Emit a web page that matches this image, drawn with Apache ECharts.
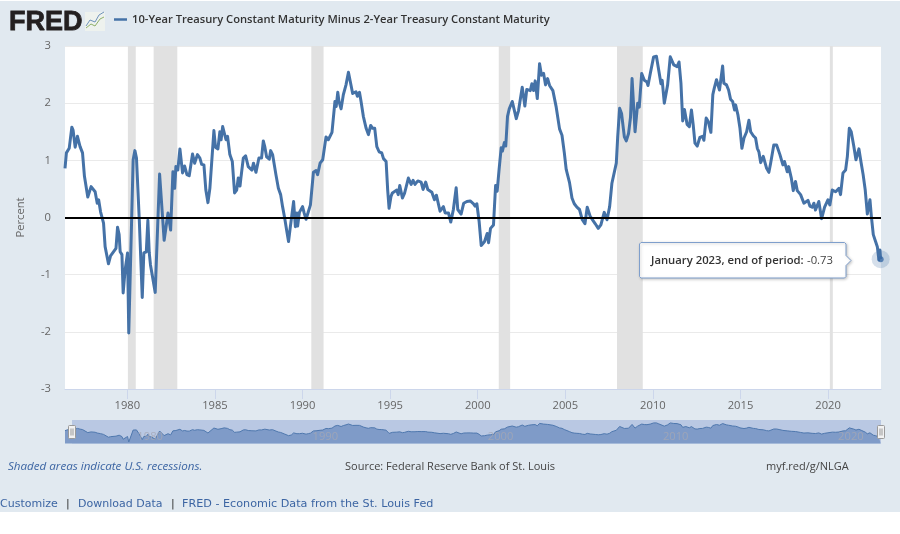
<!DOCTYPE html>
<html>
<head>
<meta charset="utf-8">
<style>html,body{margin:0;padding:0;background:#fff}#c{width:900px;height:534px}</style>
<script src="https://cdn.jsdelivr.net/npm/echarts@6/dist/echarts.min.js"></script>
</head>
<body>
<div id="c"></div>
<script>
const seriesName = '10-Year Treasury Constant Maturity Minus 2-Year Treasury Constant Maturity';
const years = [
1976.44,1976.52,1976.68,1976.83,1976.9,1977.02,1977.15,1977.3,1977.44,1977.55,1977.74,1977.93,
1978.16,1978.28,1978.36,1978.47,1978.64,1978.73,1978.92,1979.04,1979.15,1979.35,1979.44,1979.53,1979.59,1979.69,1979.76,1979.87,
1980.01,1980.08,1980.18,1980.33,1980.43,1980.52,1980.68,1980.85,1980.94,1981.08,1981.17,1981.25,1981.32,1981.4,1981.59,1981.65,1981.84,
1982.1,1982.18,1982.32,1982.42,1982.47,1982.6,1982.7,1982.77,1982.88,1983.0,1983.15,1983.27,1983.4,1983.53,1983.72,1983.84,
1984.0,1984.14,1984.24,1984.37,1984.48,1984.6,1984.71,1984.94,1985.03,1985.17,1985.28,1985.35,1985.44,1985.53,1985.63,1985.72,1985.85,1985.99,
1986.12,1986.24,1986.33,1986.43,1986.48,1986.62,1986.75,1986.9,1987.0,1987.11,1987.2,1987.34,1987.51,1987.66,1987.76,1987.85,1987.95,
1988.1,1988.18,1988.29,1988.48,1988.62,1988.75,1988.86,1988.98,1989.09,1989.2,1989.28,1989.36,1989.49,1989.59,1989.68,1989.72,1989.82,1989.91,
1990.0,1990.09,1990.2,1990.33,1990.45,1990.62,1990.77,1990.86,1991.0,1991.15,1991.34,1991.47,1991.68,1991.85,1991.92,
1992.01,1992.08,1992.2,1992.33,1992.42,1992.48,1992.62,1992.71,1992.86,1992.96,1993.05,1993.13,1993.25,1993.34,1993.47,1993.63,1993.76,1993.89,
1994.0,1994.12,1994.24,1994.37,1994.52,1994.62,1994.77,1994.86,1994.94,1995.05,1995.13,1995.24,1995.38,1995.46,1995.55,1995.7,1995.82,1995.93,
1996.04,1996.12,1996.2,1996.31,1996.42,1996.58,1996.77,1996.88,1997.03,1997.15,1997.38,1997.53,1997.64,1997.85,
1998.04,1998.14,1998.33,1998.46,1998.61,1998.69,1998.77,1998.86,1999.05,1999.2,1999.38,1999.57,1999.76,1999.85,1999.95,
2000.08,2000.2,2000.39,2000.54,2000.62,2000.73,2000.9,2001.02,2001.11,2001.22,2001.34,2001.41,2001.52,2001.6,2001.7,2001.8,2001.97,
2002.2,2002.33,2002.42,2002.54,2002.69,2002.8,2002.9,2003.0,2003.09,2003.19,2003.28,2003.4,2003.53,2003.64,2003.76,2003.87,2003.99,
2004.1,2004.29,2004.48,2004.67,2004.81,2004.94,2005.05,2005.24,2005.38,2005.51,2005.66,2005.81,2005.97,2006.12,2006.25,2006.42,2006.52,2006.71,2006.88,
2007.03,2007.14,2007.22,2007.38,2007.53,2007.66,2007.77,2007.91,2007.99,2008.1,2008.21,2008.37,2008.48,2008.61,2008.72,2008.81,2008.9,2008.98,
2009.13,2009.22,2009.36,2009.51,2009.66,2009.72,2009.85,2010.04,2010.2,2010.33,2010.46,2010.53,2010.65,2010.84,2010.99,2011.1,2011.19,2011.28,2011.38,2011.49,2011.6,2011.7,2011.8,2011.88,2011.95,
2012.08,2012.2,2012.3,2012.4,2012.53,2012.68,2012.83,2012.91,2013.04,2013.16,2013.31,2013.42,2013.5,2013.63,2013.8,2013.98,
2014.05,2014.2,2014.32,2014.43,2014.55,2014.66,2014.72,2014.85,2014.97,2015.08,2015.2,2015.35,2015.48,2015.58,2015.73,2015.86,2015.96,
2016.05,2016.15,2016.3,2016.49,2016.62,2016.72,2016.9,2017.06,2017.25,2017.42,2017.51,2017.67,2017.75,2017.9,
2018.01,2018.14,2018.24,2018.43,2018.62,2018.85,2018.96,2019.09,2019.19,2019.28,2019.47,2019.63,2019.8,2019.99,
2020.1,2020.24,2020.43,2020.62,2020.71,2020.85,2021.0,2021.1,2021.21,2021.32,2021.47,2021.59,2021.76,2021.89,
2022.0,2022.12,2022.24,2022.39,2022.47,2022.58,2022.71,2022.81,2022.9,2022.96,2023.0
];
const spreads = [
.86,1.13,1.21,1.58,1.53,1.23,1.42,1.24,1.13,.72,.36,.54,
.45,.25,.31,.10,-.10,-.51,-.81,-.67,-.68,-.54,-.17,-.30,-.6,-.65,-1.32,-.92,
-.62,-2.02,-2.0,1.01,1.17,1.04,-.04,-1.40,-.62,-.6,-.05,-.62,-.83,-.81,-1.31,-1.31,.76,
-.40,-.39,.08,.08,-.22,.8,.51,.89,.83,1.2,.78,.9,.75,.73,1.11,.95,
1.1,1.04,.93,.92,.48,.26,.51,1.52,1.23,1.2,1.5,1.36,1.59,1.56,1.36,1.42,1.1,.98,
.43,.48,.69,.55,.69,1.04,1.08,.89,.86,.83,.95,.79,1.04,1.04,1.34,1.23,1.06,
1.02,1.17,1.1,.75,.51,.4,.19,-.01,-.22,-.42,-.22,-.24,.28,-.16,.08,-.15,.09,.09,
.19,.08,-.03,.1,.22,.79,.82,.75,.95,1.01,1.41,1.36,1.49,2.03,1.94,
2.19,2.03,1.9,2.15,2.18,2.32,2.54,2.55,2.17,2.15,2.2,2.12,2.19,2.03,1.77,1.56,1.45,1.61,
1.56,1.56,1.24,1.15,1.13,1.03,.98,.48,.16,.37,.43,.4,.48,.4,.56,.34,.42,.4,
.69,.71,.58,.65,.58,.64,.62,.49,.62,.49,.44,.31,.39,.11,
.19,.08,.08,-.08,.14,.16,.52,.14,.06,.25,.28,.29,.24,.2,.24,
-.07,-.49,-.42,-.28,-.44,-.19,-.13,.56,.46,.84,1.22,1.16,1.31,1.25,1.77,1.9,2.03,
1.73,1.87,1.9,2.28,1.95,2.24,2.22,2.22,2.34,2.22,2.39,2.08,2.69,2.49,2.52,2.32,2.43,
2.31,2.22,1.93,1.55,1.44,1.14,.84,.61,.34,.24,.18,.14,-.04,-.11,.18,.02,.03,-.11,-.19,
-.13,-.1,.09,-.04,.19,.6,.57,.95,1.41,1.91,1.82,1.41,1.34,1.47,1.75,2.43,1.95,1.5,
2.0,1.93,2.52,2.4,2.37,2.31,2.52,2.81,2.82,2.58,2.34,2.4,2.0,2.32,2.81,2.83,2.67,2.7,2.64,2.72,2.35,1.69,1.89,1.89,1.63,
1.59,1.88,1.62,1.3,1.25,1.4,1.42,1.35,1.74,1.68,1.49,2.15,2.26,2.41,2.23,2.65,
2.35,2.32,2.23,2.07,2.03,1.88,1.97,1.8,1.56,1.21,1.39,1.5,1.7,1.5,1.43,1.39,1.21,
1.15,.96,1.07,.86,.79,.95,1.27,1.27,1.1,.92,.98,.8,.89,.69,
.47,.63,.47,.4,.25,.3,.2,.18,.25,.13,.28,-.02,.18,.31,
.22,.48,.45,.51,.4,.78,.83,1.07,1.56,1.5,1.24,1.01,1.2,.95,
.75,.48,.06,.31,.02,-.3,-.42,-.51,-.74,-.57,-.73
];
const recessionStart = [1980.03,1981.5,1990.5,2001.2,2007.95,2020.1];
const recessionEnd   = [1980.48,1982.85,1991.2,2001.85,2009.42,2020.27];
const xTickYears = [1980,1985,1990,1995,2000,2005,2010,2015,2020];
const navLabelYears = [1980,1990,2000,2010,2020];
const tipLabel = 'January 2023, end of period:';
const tipValue = '-0.73';

const pts = years.map((y,i)=>[y,spreads[i]]);
const last = pts[pts.length-1];
const F = '"Open Sans"';
const xMin = 1976.44, xMax = 2023.02;
const D = '"DejaVu Sans"';

const chart = echarts.init(document.getElementById('c'), null, {renderer:'canvas'});
chart.setOption({
  animation:false,
  backgroundColor:'#fff',
  textStyle:{fontFamily:F},
  legend:{
    data:[seriesName], left:114, top:14, padding:0, icon:'rect', itemWidth:13, itemHeight:2.5, itemGap:0,
    textStyle:{fontFamily:F,fontSize:11.2,fontWeight:600,color:'#333'},
    selectedMode:false
  },
  grid:[
    {left:65,top:46,width:816,height:343,show:true,backgroundColor:'#fff',borderWidth:0},
    {left:65,top:421,width:816,height:22.5,show:false}
  ],
  xAxis:[
    {type:'value',gridIndex:0,min:xMin,max:xMax,splitLine:{show:false},
     axisLine:{show:true,onZero:false,lineStyle:{color:'#ccd6eb'}},
     axisTick:{show:true,length:10,lineStyle:{color:'#ccd6eb'},customValues:xTickYears},
     axisLabel:{color:'#666',fontSize:11.2,margin:11,customValues:xTickYears,formatter:v=>String(v),fontFamily:F}},
    {type:'value',gridIndex:1,min:xMin,max:xMax,z:5,splitLine:{show:false},
     axisLine:{show:false},axisTick:{show:false},
     axisLabel:{show:true,inside:true,customValues:navLabelYears,formatter:v=>String(v),color:'rgba(165,168,180,.8)',fontSize:11.2,margin:1,align:'left',padding:[0,0,0,10],fontFamily:F}}
  ],
  yAxis:[
    {type:'value',gridIndex:0,min:-3,max:3,interval:1,
     axisLine:{show:false},axisTick:{show:false},
     splitLine:{show:true,lineStyle:{color:'#eaeaea',width:1}},
     axisLabel:{color:'#666',fontSize:11.2,margin:14,padding:[2,0,0,0],fontFamily:F},
     name:'Percent',nameLocation:'middle',nameRotate:90,nameGap:39,nameTextStyle:{color:'#666',fontSize:11.2,fontFamily:F}},
    {type:'value',gridIndex:1,min:-2.4,max:3.3,show:false,splitLine:{show:false}}
  ],
  series:[
    {name:seriesName,type:'line',xAxisIndex:0,yAxisIndex:0,data:pts,showSymbol:false,symbol:'none',
     lineStyle:{color:'#4572a7',width:3,join:'round'},itemStyle:{color:'#4572a7'},z:3,
     markArea:{silent:true,itemStyle:{color:'#e1e1e1'},z:1,
       data:recessionStart.map((s,i)=>[{xAxis:s},{xAxis:recessionEnd[i]}])},
     markLine:{silent:true,symbol:'none',label:{show:false},animation:false,z:4,
       lineStyle:{color:'#000',width:2,type:'solid'},data:[{yAxis:0}]}
    },
    {name:'halo',type:'scatter',xAxisIndex:0,yAxisIndex:0,data:[last],symbolSize:18,itemStyle:{color:'rgba(69,114,167,.28)'},z:5,silent:true,clip:false},
    {name:'point',type:'scatter',xAxisIndex:0,yAxisIndex:0,data:[last],symbolSize:6,itemStyle:{color:'#3a6aa5'},z:6,silent:true,clip:false},
    {name:'navigator',type:'line',xAxisIndex:1,yAxisIndex:1,data:pts,showSymbol:false,symbol:'none',
     lineStyle:{color:'#4f78ae',width:1},areaStyle:{color:'#7f9bc8',opacity:1,origin:'start'},z:2,silent:true}
  ],
  graphic:[
    {type:'rect',silent:true,z:-10,shape:{x:0,y:1,width:900,height:511},style:{fill:'#e1e9f0'}},
    {type:'rect',silent:true,z:-5,shape:{x:72,y:420,width:809,height:23.5},style:{fill:'#b9c8e3'}},
    {type:'text',silent:true,z:20,style:{x:9,y:9,text:'FRED',fill:'#231f20',font:'900 27px "Liberation Sans"',stroke:'#231f20',lineWidth:.8}},
    {type:'rect',silent:true,z:20,shape:{x:85,y:12,width:20,height:19},style:{fill:'#eef2ee'}},
    {type:'polyline',silent:true,z:21,shape:{points:[[86,28],[91,24],[95,26],[100,19],[104,17]]},style:{stroke:'#8fb06a',lineWidth:1,fill:null}},
    {type:'polyline',silent:true,z:21,shape:{points:[[86,26],[90,20],[95,22],[99,15],[104,12]]},style:{stroke:'#6f93bb',lineWidth:1,fill:null}},
    {type:'polygon',silent:true,z:30,
     shape:{points:[[641,242.5],[844.5,242.5],[846,244],[846,255.5],[851,260.5],[846,265.5],[846,276.5],[844.5,278],[641,278],[639.5,276.5],[639.5,244]]},
     style:{fill:'#fff',stroke:'#7f9fcc',lineWidth:1,shadowBlur:3,shadowColor:'rgba(0,0,0,.22)',shadowOffsetX:1,shadowOffsetY:1}},
    {type:'text',silent:true,z:31,style:{x:651,y:261,text:tipLabel,fill:'#333',font:'600 11.3px '+F,verticalAlign:'middle'}},
    {type:'text',silent:true,z:31,style:{x:833,y:261,text:tipValue,fill:'#444',font:'400 11.3px '+F,align:'right',verticalAlign:'middle'}},
    ...[72,881].map(x=>({type:'group',silent:true,z:30,children:[
      {type:'rect',z:30,shape:{x:x-3.5,y:425.5,width:7,height:13,r:1},style:{fill:'#f2f2f2',stroke:'#999',lineWidth:1}},
      {type:'line',z:31,shape:{x1:x-1,y1:428.5,x2:x-1,y2:435.5},style:{stroke:'#999',lineWidth:1}},
      {type:'line',z:31,shape:{x1:x+1,y1:428.5,x2:x+1,y2:435.5},style:{stroke:'#999',lineWidth:1}}
    ]})),
    {type:'text',silent:true,z:20,style:{x:8,y:467,text:'Shaded areas indicate U.S. recessions.',fill:'#3c65a3',font:'italic 400 11.6px '+F,verticalAlign:'middle'}},
    {type:'text',silent:true,z:20,style:{x:345,y:467,text:'Source: Federal Reserve Bank of St. Louis',fill:'#444',font:'400 11px '+F,verticalAlign:'middle'}},
    {type:'text',silent:true,z:20,style:{x:766,y:467,text:'myf.red/g/NLGA',fill:'#444',font:'400 11px '+F,verticalAlign:'middle'}},
    {type:'text',silent:true,z:20,style:{x:0,y:504,text:'Customize',fill:'#3c65a3',font:'400 11px '+D,verticalAlign:'middle'}},
    {type:'text',silent:true,z:20,style:{x:66,y:504,text:'|',fill:'#333',font:'400 11px '+D,verticalAlign:'middle'}},
    {type:'text',silent:true,z:20,style:{x:78,y:504,text:'Download Data',fill:'#3c65a3',font:'400 11px '+D,verticalAlign:'middle'}},
    {type:'text',silent:true,z:20,style:{x:171,y:504,text:'|',fill:'#333',font:'400 11px '+D,verticalAlign:'middle'}},
    {type:'text',silent:true,z:20,style:{x:182,y:504,text:'FRED - Economic Data from the St. Louis Fed',fill:'#3c65a3',font:'400 11.2px '+D,verticalAlign:'middle'}}
  ]
});
</script>
</body>
</html>
